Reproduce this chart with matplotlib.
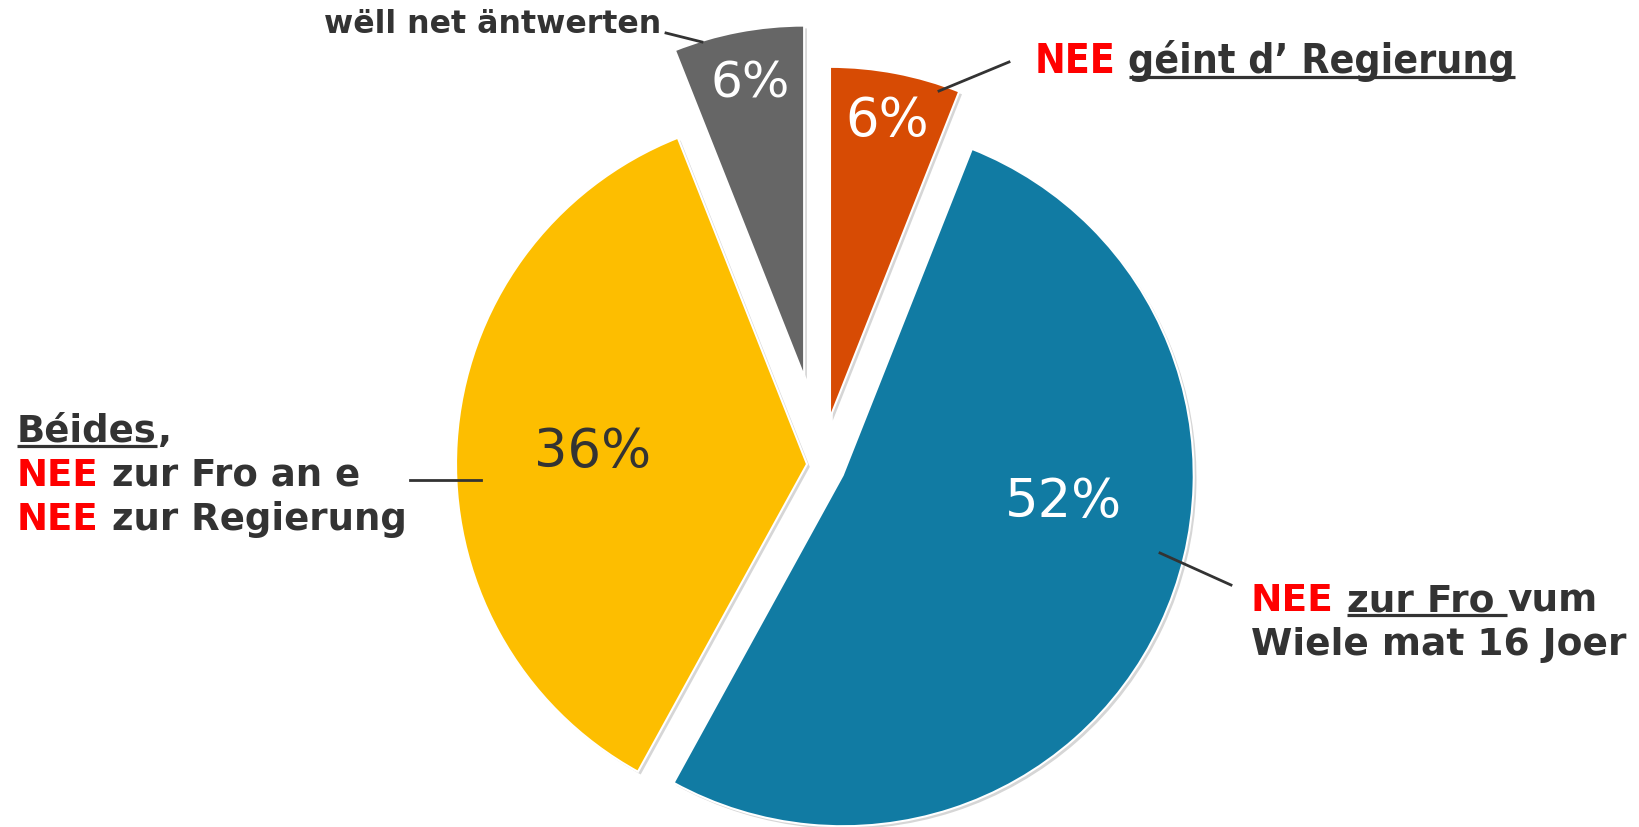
import matplotlib
matplotlib.use("Agg")
import matplotlib.pyplot as plt
import matplotlib.patheffects as pe
from matplotlib import font_manager
from matplotlib.font_manager import FontProperties

# Data
#--------------------------------------------------------------------------
names = ["NEE géint d’ Regierung",
         "NEE zur Fro vum Wiele mat 16 Joer",
         "Béides, NEE zur Fro an e NEE zur Regierung",
         "wëll net äntwerten"]
shares = [6, 52, 36, 6]
colors = ["#D74B04", "#117BA3", "#FDBE00", "#666666"]
pct_colors = ["white", "white", "#333333", "white"]

RED = "#FF0000"
DARK = "#333333"

W, H = 1639, 828
R = 351
# slice offsets (pie explode is in data units = pixels here)
explode = [48, 24, 14, 90]

fig = plt.figure(figsize=(W / 100, H / 100), dpi=100)
ax = fig.add_axes([0, 0, 1, 1])

wedges, _ = ax.pie(shares, colors=colors, explode=explode, startangle=90,
                   counterclock=False, center=(821, H - 466), radius=R,
                   wedgeprops=dict(edgecolor="white", linewidth=1.5))
for w in wedges:
    w.set_path_effects([pe.SimplePatchShadow(offset=(2, -2), shadow_rgbFace="#999999", alpha=0.4),
                        pe.Normal()])

ax.set_aspect("auto")
ax.set_xlim(0, W)
ax.set_ylim(0, H)
ax.axis("off")

# percentage labels
pct_pos = [(887, 121), (1063, 502), (593, 452), (750, 83)]
pct_size = [38, 38, 38, 36]
for v, (x, y), c, s in zip(shares, pct_pos, pct_colors, pct_size):
    ax.text(x, H - y, f"{v}%", color=c, fontsize=s, ha="center", va="center",
            family="DejaVu Sans")

# fonts
bold_left = FontProperties(family="DejaVu Sans", weight="bold", size=26.7)
bold_right = FontProperties(family="DejaVu Sans", weight="bold", size=27)
small_bold = FontProperties(family="DejaVu Sans", weight="bold", size=22.8)
cond_files = [f.fname for f in font_manager.fontManager.ttflist
              if ("Condensed" in f.fname or "Narrow" in f.fname) and "Bold" in f.fname
              and "Oblique" not in f.fname and "Italic" not in f.fname]
cond_files.sort(key=lambda p: (0 if "DejaVuSansCondensed" in p else 1))
if cond_files:
    cond = FontProperties(fname=cond_files[0], size=29.3)
else:
    cond = FontProperties(family="DejaVu Sans", weight="bold", size=26.5)

renderer = fig.canvas.get_renderer()


def text_width(s, fp):
    t = ax.text(0, 0, s, fontproperties=fp)
    w = t.get_window_extent(renderer=renderer).width
    t.remove()
    return w


def rich_line(x, y, pieces, fp):
    # pieces: (text, color, underline); y is baseline from top
    sp = text_width("a a", fp) - text_width("aa", fp)
    for txt, col, ul in pieces:
        core = txt.rstrip(" ")
        t = ax.text(x, H - y, core, color=col, fontproperties=fp,
                    ha="left", va="baseline")
        w = t.get_window_extent(renderer=renderer).width
        trail = (len(txt) - len(core)) * sp
        if ul:
            ax.plot([x, x + w + trail], [H - y - 5, H - y - 5],
                    color=col, lw=2.3, solid_capstyle="butt")
        x += w + trail


# labels
rich_line(1035, 73, [("NEE ", RED, False), ("géint d’ Regierung", DARK, True)], cond)

rich_line(1251, 611, [("NEE ", RED, False), ("zur Fro ", DARK, True), ("vum", DARK, False)], bold_right)
rich_line(1251, 655, [("Wiele mat 16 Joer", DARK, False)], bold_right)

rich_line(17, 442, [("Béides", DARK, True), (",", DARK, False)], bold_left)
rich_line(17, 486, [("NEE ", RED, False), ("zur Fro an e", DARK, False)], bold_left)
rich_line(17, 530, [("NEE ", RED, False), ("zur Regierung", DARK, False)], bold_left)

rich_line(324, 33, [("wëll net äntwerten", DARK, False)], small_bold)

# leader lines
leaders = [((939, 92), (1009, 63)),
           ((1160, 554), (1231, 586)),
           ((410, 481), (481, 481)),
           ((666, 34), (702, 43))]
for (x0, y0), (x1, y1) in leaders:
    ax.plot([x0, x1], [H - y0, H - y1], color=DARK, lw=2)

fig.savefig("out.png", dpi=100)
